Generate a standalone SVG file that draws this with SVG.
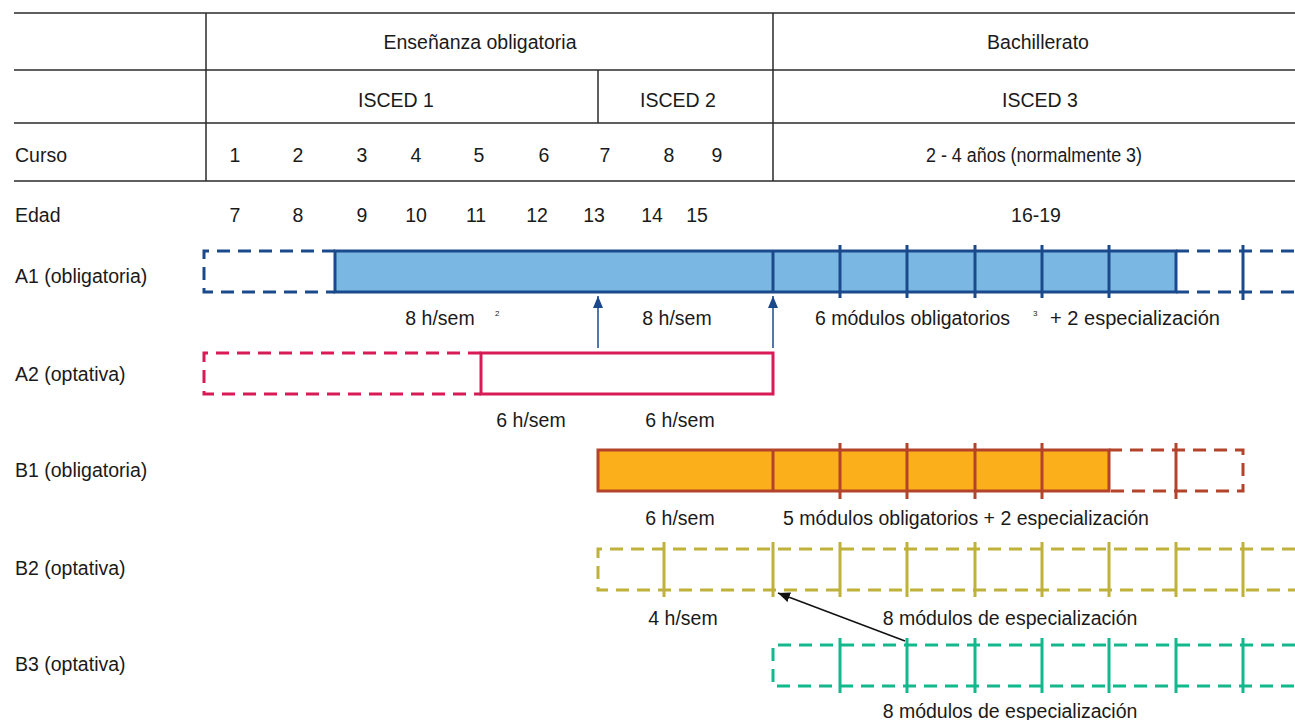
<svg xmlns="http://www.w3.org/2000/svg" width="1295" height="720" viewBox="0 0 1295 720">
  <style>
    text { font-family: "Liberation Sans", Arial, sans-serif; font-size: 19.5px; fill: #1a1a1a; }
    .c { text-anchor: middle; }
    .sup { font-size: 8px; }
    .grid { stroke: #2b2b2b; stroke-width: 1.5; fill: none; }
    .a1 { stroke: #1b4a8c; stroke-width: 3; }
    .a2 { stroke: #d81b57; stroke-width: 3; }
    .b1 { stroke: #b4432b; stroke-width: 3; }
    .b2 { stroke: #bfb13a; stroke-width: 3; }
    .b3 { stroke: #13b88c; stroke-width: 3; }
    .dash { fill: none; stroke-dasharray: 13 8; }
  </style>
  <defs>
    <marker id="headBlue" viewBox="0 0 12 10" refX="12" refY="5" markerWidth="12" markerHeight="10" markerUnits="userSpaceOnUse" orient="auto">
      <path d="M0,0 L12,5 L0,10 Z" fill="#1b4a8c"/>
    </marker>
    <marker id="headBlack" viewBox="0 0 12 10" refX="12" refY="5" markerWidth="12" markerHeight="10" markerUnits="userSpaceOnUse" orient="auto">
      <path d="M0,0 L12,5 L0,10 Z" fill="#111"/>
    </marker>
  </defs>

  <!-- header table -->
  <g id="table">
    <path class="grid" d="M14,13 H1295 M14,70 H1295 M14,123 H1295 M14,181 H1295 M206,13 V181 M773,13 V181 M598,70 V123"/>
    <text class="c" x="480" y="49">Enseñanza obligatoria</text>
    <text class="c" x="1038" y="49">Bachillerato</text>
    <text class="c" x="396" y="107">ISCED 1</text>
    <text class="c" x="678" y="107">ISCED 2</text>
    <text class="c" x="1040" y="107">ISCED 3</text>
    <text x="15" y="162">Curso</text>
    <text class="c" x="235" y="162">1</text>
    <text class="c" x="298" y="162">2</text>
    <text class="c" x="362" y="162">3</text>
    <text class="c" x="416" y="162">4</text>
    <text class="c" x="479" y="162">5</text>
    <text class="c" x="544" y="162">6</text>
    <text class="c" x="605" y="162">7</text>
    <text class="c" x="669" y="162">8</text>
    <text class="c" x="717" y="162">9</text>
    <text class="c" x="1034" y="162" textLength="216" lengthAdjust="spacingAndGlyphs">2 - 4 años (normalmente 3)</text>
    <text x="15" y="222">Edad</text>
    <text class="c" x="235" y="222">7</text>
    <text class="c" x="298" y="222">8</text>
    <text class="c" x="362" y="222">9</text>
    <text class="c" x="416" y="222">10</text>
    <text class="c" x="476" y="222">11</text>
    <text class="c" x="537" y="222">12</text>
    <text class="c" x="594" y="222">13</text>
    <text class="c" x="652" y="222">14</text>
    <text class="c" x="697" y="222">15</text>
    <text class="c" x="1036" y="222">16-19</text>
  </g>

  <!-- A1 -->
  <g id="a1">
    <text x="15" y="283">A1 (obligatoria)</text>
    <path class="a1 dash" d="M335,251 H204 V292 H335"/>
    <rect class="a1" x="335" y="251" width="841" height="41" fill="#7ab8e3"/>
    <path class="a1" d="M773,251 V292 M840,245 V298 M907,245 V298 M975,245 V298 M1042,245 V298 M1109,245 V298"/>
    <path class="a1 dash" d="M1176,251 H1295 M1176,292 H1295"/>
    <path class="a1" d="M1243,245 V300"/>
    <text class="c" x="440" y="325">8 h/sem</text>
    <text class="sup" x="495" y="316">2</text>
    <text class="c" x="677" y="325">8 h/sem</text>
    <text x="815" y="325">6 módulos obligatorios</text>
    <text class="sup" x="1033" y="316">3</text>
    <text x="1050" y="325" textLength="170" lengthAdjust="spacingAndGlyphs">+ 2 especialización</text>
  </g>

  <!-- A2 -->
  <g id="a2">
    <text x="15" y="381">A2 (optativa)</text>
    <path class="a2 dash" d="M481,353 H204 V394 H481"/>
    <rect class="a2" x="481" y="353" width="292" height="41" fill="#ffffff"/>
    <text class="c" x="531" y="427">6 h/sem</text>
    <text class="c" x="680" y="427">6 h/sem</text>
  </g>

  <!-- B1 -->
  <g id="b1">
    <text x="15" y="477">B1 (obligatoria)</text>
    <rect class="b1" x="598" y="450" width="511" height="41" fill="#fbb01b"/>
    <path class="b1" d="M773,450 V491 M840,443 V499 M907,443 V499 M975,443 V499 M1042,443 V499"/>
    <path class="b1 dash" d="M1109,450 H1243 V491 H1109"/>
    <path class="b1" d="M1176,443 V499"/>
    <text class="c" x="680" y="525">6 h/sem</text>
    <text class="c" x="966" y="525">5 módulos obligatorios + 2 especialización</text>
  </g>

  <!-- B2 -->
  <g id="b2">
    <text x="15" y="575">B2 (optativa)</text>
    <path class="b2 dash" d="M1295,549 H598 V590 H1295"/>
    <path class="b2" d="M664,542 V597 M773,542 V597 M840,542 V597 M907,542 V597 M975,542 V597 M1042,542 V597 M1109,542 V597 M1176,542 V597 M1243,542 V597"/>
    <text class="c" x="683" y="625">4 h/sem</text>
    <text class="c" x="1010" y="625">8 módulos de especialización</text>
  </g>

  <!-- B3 -->
  <g id="b3">
    <text x="15" y="671">B3 (optativa)</text>
    <path class="b3 dash" d="M1295,645 H773 V686 H1295"/>
    <path class="b3" d="M840,638 V693 M907,638 V693 M975,638 V693 M1042,638 V693 M1109,638 V693 M1176,638 V693 M1243,638 V693"/>
    <text class="c" x="1010" y="718">8 módulos de especialización</text>
  </g>

  <!-- connectors -->
  <g id="connectors">
    <line x1="598" y1="348" x2="598" y2="296" stroke="#1b4a8c" stroke-width="1.5" marker-end="url(#headBlue)"/>
    <line x1="773" y1="348" x2="773" y2="296" stroke="#1b4a8c" stroke-width="1.5" marker-end="url(#headBlue)"/>
    <line x1="905" y1="641" x2="778" y2="593" stroke="#111" stroke-width="1.5" marker-end="url(#headBlack)"/>
  </g>
</svg>
